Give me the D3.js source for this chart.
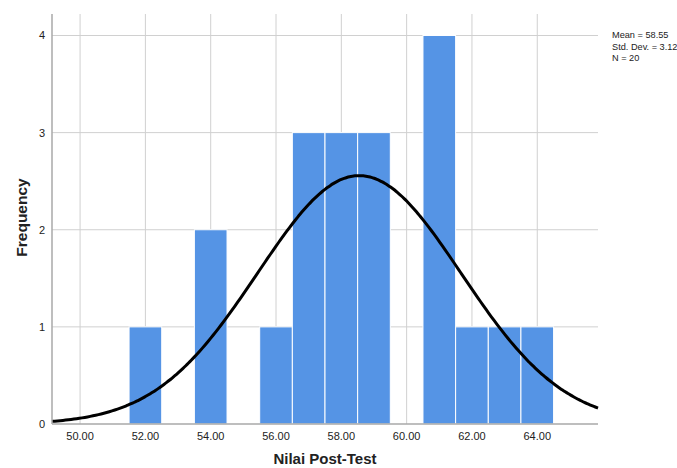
<!DOCTYPE html>
<html>
<head>
<meta charset="utf-8">
<script src="https://cdn.jsdelivr.net/npm/d3@7"></script>
<style>
  body { margin: 0; background: #fff; }
  text { font-family: "Liberation Sans", Arial, sans-serif; }
</style>
</head>
<body>
<div id="chart"></div>
<script>
// data
var binCenters = [52, 54, 56, 57, 58, 59, 61, 62, 63, 64],
    binCounts  = [1, 2, 1, 3, 3, 3, 4, 1, 1, 1],
    xTicks = [50, 52, 54, 56, 58, 60, 62, 64],
    yTicks = [0, 1, 2, 3, 4],
    stats = { mean: 58.55, sd: 3.12, n: 20 },
    statLines = ["Mean = 58.55", "Std. Dev. = 3.12", "N = 20"];

var W = 677, H = 468;
var area = { l: 52, r: 598, t: 14, b: 424 };
var color = { bar: "#5594e5", grid: "#d0d0d0", axis: "#a8a8a8", text: "#222" };

var svg = d3.select("#chart").append("svg").attr("width", W).attr("height", H);

var x = d3.scaleLinear().domain([49.14, 65.86]).range([area.l, area.r]);
var y = d3.scaleLinear().domain([0, 4.04]).range([area.b, area.t + 17.6]);

//grid
svg.append("g").selectAll("line").data(xTicks).enter().append("line")
   .attr("x1", d => x(d)).attr("x2", d => x(d)).attr("y1", area.t).attr("y2", area.b)
   .attr("stroke", color.grid).attr("stroke-width", 1);
svg.append("g").selectAll("line").data(yTicks.slice(1)).enter().append("line")
   .attr("x1", area.l).attr("x2", area.r).attr("y1", d => y(d)).attr("y2", d => y(d))
   .attr("stroke", color.grid).attr("stroke-width", 1);

//bars
svg.append("g").selectAll("rect").data(binCenters).enter().append("rect")
   .attr("x", d => x(d - 0.5)).attr("width", d => x(d + 0.5) - x(d - 0.5))
   .attr("y", (d, i) => y(binCounts[i])).attr("height", (d, i) => y(0) - y(binCounts[i]))
   .attr("fill", color.bar).attr("stroke", "#fff").attr("stroke-width", 1);

//normal curve
var pts = d3.range(0, 201).map(function(k) {
  var v = x.domain()[0] + (x.domain()[1] - x.domain()[0]) * k / 200;
  var z = (v - stats.mean) / stats.sd;
  return [v, stats.n * Math.exp(-z * z / 2) / (stats.sd * Math.sqrt(2 * Math.PI))];
});
svg.append("path").datum(pts)
   .attr("d", d3.line().x(d => x(d[0])).y(d => y(d[1])).curve(d3.curveBasis))
   .attr("fill", "none").attr("stroke", "#000").attr("stroke-width", 3);

//axes
svg.append("line").attr("x1", area.l).attr("x2", area.l).attr("y1", area.t).attr("y2", area.b)
   .attr("stroke", color.axis).attr("stroke-width", 1.5);
svg.append("line").attr("x1", area.l).attr("x2", area.r).attr("y1", area.b).attr("y2", area.b)
   .attr("stroke", color.axis).attr("stroke-width", 1.5);

svg.append("g").selectAll("text").data(xTicks).enter().append("text")
   .attr("x", d => x(d)).attr("y", area.b + 16).attr("text-anchor", "middle")
   .attr("font-size", 11).attr("fill", color.text).text(d => d.toFixed(2));
svg.append("g").selectAll("text").data(yTicks).enter().append("text")
   .attr("x", area.l - 7).attr("y", d => y(d) + 4).attr("text-anchor", "end")
   .attr("font-size", 11).attr("fill", color.text).text(d => d);

svg.append("text").attr("x", 325).attr("y", 464).attr("text-anchor", "middle")
   .attr("font-size", 15).attr("font-weight", "bold").attr("fill", color.text).text("Nilai Post-Test");
svg.append("text").attr("transform", "translate(27,217.5) rotate(-90)")
   .attr("text-anchor", "middle").attr("font-size", 15.5).attr("font-weight", "bold")
   .attr("fill", color.text).text("Frequency");

//stats
svg.append("g").selectAll("text").data(statLines).enter().append("text")
   .attr("x", 612).attr("y", (d, i) => 38 + i * 11.5)
   .attr("font-size", 9.2).attr("fill", color.text).text(d => d);
</script>
</body>
</html>
